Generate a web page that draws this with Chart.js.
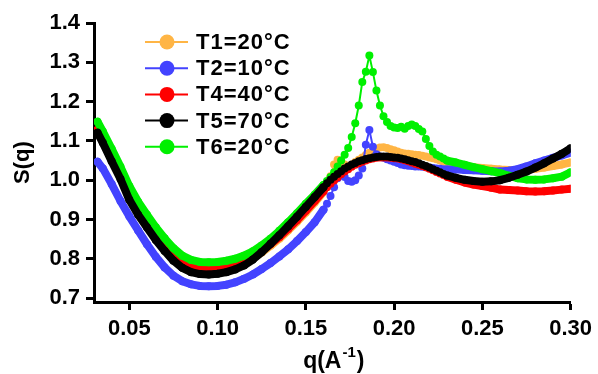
<!DOCTYPE html>
<html>
<head>
<meta charset="utf-8">
<script src="https://cdn.jsdelivr.net/npm/chart.js@4.4.1/dist/chart.umd.min.js"></script>
<style>
  html, body { margin: 0; padding: 0; background: #fff; }
  #wrap { width: 598px; height: 374px; }
</style>
</head>
<body>
<div id="wrap"><canvas id="chart" width="598" height="374"></canvas></div>
<script>
// q values (A^-1), shared by every curve
const qValues = [
  0.032, 0.035, 0.040, 0.045, 0.050, 0.055, 0.060, 0.065, 0.070, 0.075,
  0.080, 0.085, 0.090, 0.095, 0.100, 0.105, 0.110, 0.115, 0.120, 0.125,
  0.130, 0.135, 0.140, 0.145, 0.150, 0.155, 0.160,
  0.162, 0.164, 0.166, 0.168, 0.170, 0.172, 0.174, 0.176, 0.178, 0.180,
  0.182, 0.184, 0.186, 0.188, 0.190, 0.192, 0.194, 0.196, 0.198, 0.200,
  0.202, 0.204, 0.206, 0.208, 0.210, 0.212, 0.214, 0.216, 0.218, 0.220,
  0.222, 0.224, 0.226, 0.228, 0.230,
  0.235, 0.240, 0.245, 0.250, 0.255, 0.260, 0.265, 0.270, 0.275, 0.280,
  0.285, 0.290, 0.295, 0.300
];

const sT1 = [
  1.124, 1.099, 1.054, 1.010, 0.959, 0.921, 0.889, 0.858, 0.831, 0.806,
  0.788, 0.777, 0.772, 0.771, 0.772, 0.775, 0.781, 0.789, 0.801, 0.816,
  0.833, 0.851, 0.872, 0.894, 0.918, 0.943, 0.970,
  0.985, 1.010, 1.040, 1.052, 1.050, 1.040, 1.036, 1.040, 1.046, 1.052,
  1.058, 1.064, 1.070, 1.075, 1.080, 1.083, 1.084, 1.082, 1.079, 1.076,
  1.073, 1.070, 1.068, 1.067, 1.066, 1.065, 1.064, 1.062, 1.060, 1.058,
  1.056, 1.053, 1.050, 1.047, 1.045,
  1.040, 1.036, 1.033, 1.031, 1.029, 1.027, 1.026, 1.026, 1.027, 1.029,
  1.032, 1.036, 1.040, 1.045
];

const sT2 = [
  1.047, 1.030, 0.990, 0.947, 0.908, 0.872, 0.837, 0.805, 0.778, 0.757,
  0.743, 0.735, 0.731, 0.730, 0.731, 0.734, 0.740, 0.749, 0.760, 0.774,
  0.789, 0.806, 0.824, 0.845, 0.868, 0.893, 0.925,
  0.940, 0.960, 0.982, 1.005, 1.018, 1.008, 0.998, 0.996, 1.000, 1.012,
  1.030, 1.090, 1.128, 1.085, 1.066, 1.060, 1.057, 1.053, 1.050, 1.047,
  1.044, 1.040, 1.038, 1.037, 1.036, 1.035, 1.035, 1.034, 1.033, 1.032,
  1.031, 1.030, 1.029, 1.028, 1.027,
  1.028, 1.026, 1.025, 1.024, 1.023, 1.022, 1.024, 1.028, 1.035, 1.043,
  1.050, 1.057, 1.063, 1.070
];

const sT4 = [
  1.128, 1.103, 1.058, 1.014, 0.963, 0.925, 0.893, 0.862, 0.835, 0.810,
  0.792, 0.781, 0.776, 0.775, 0.776, 0.779, 0.785, 0.793, 0.805, 0.820,
  0.837, 0.855, 0.876, 0.898, 0.922, 0.947, 0.972,
  0.982, 0.991, 0.999, 1.007, 1.015, 1.022, 1.028, 1.034, 1.039, 1.043,
  1.047, 1.050, 1.053, 1.055, 1.057, 1.058, 1.058, 1.058, 1.057, 1.056,
  1.055, 1.053, 1.051, 1.048, 1.045, 1.042, 1.039, 1.036, 1.033, 1.029,
  1.025, 1.021, 1.017, 1.013, 1.009,
  1.001, 0.994, 0.989, 0.985, 0.981, 0.976, 0.975, 0.974, 0.972, 0.971,
  0.972, 0.974, 0.976, 0.978
];

const sT5 = [
  1.121, 1.095, 1.048, 1.003, 0.950, 0.912, 0.880, 0.848, 0.820, 0.795,
  0.777, 0.766, 0.761, 0.760, 0.762, 0.766, 0.773, 0.783, 0.798, 0.817,
  0.838, 0.860, 0.883, 0.907, 0.932, 0.957, 0.982,
  0.992, 1.001, 1.009, 1.016, 1.023, 1.030, 1.035, 1.040, 1.044, 1.048,
  1.051, 1.054, 1.056, 1.058, 1.059, 1.060, 1.060, 1.060, 1.059, 1.058,
  1.057, 1.055, 1.053, 1.051, 1.048, 1.046, 1.043, 1.039, 1.036, 1.032,
  1.028, 1.024, 1.020, 1.016, 1.012,
  1.006, 1.001, 0.998, 0.996, 0.997, 1.000, 1.006, 1.014, 1.022, 1.032,
  1.043, 1.055, 1.067, 1.081
];

const sT6 = [
  1.149, 1.124, 1.080, 1.034, 0.985, 0.945, 0.912, 0.880, 0.852, 0.827,
  0.808, 0.797, 0.792, 0.791, 0.792, 0.795, 0.800, 0.808, 0.819, 0.834,
  0.851, 0.871, 0.893, 0.916, 0.940, 0.963, 0.988,
  0.998, 1.008, 1.020, 1.035, 1.050, 1.065, 1.082, 1.110, 1.145, 1.190,
  1.250, 1.276, 1.317, 1.275, 1.228, 1.190, 1.163, 1.148, 1.138, 1.134,
  1.133, 1.136, 1.131, 1.138, 1.142, 1.138, 1.130, 1.124, 1.105, 1.087,
  1.073, 1.065, 1.060, 1.055, 1.050,
  1.045, 1.039, 1.033, 1.028, 1.023, 1.018, 1.011, 1.005, 1.002, 1.001,
  1.002, 1.005, 1.009, 1.020
];

const seriesNames = ['T1=20°C', 'T2=10°C', 'T4=40°C', 'T5=70°C', 'T6=20°C'];
const seriesValues = [sT1, sT2, sT4, sT5, sT6];
const seriesColors = ['#FFB545', '#4343FF', '#FF0000', '#000000', '#00F000'];
const drawOrder = [4, 3, 2, 0, 1]; // black on top, orange at the bottom

const xTicks = [0.05, 0.10, 0.15, 0.20, 0.25, 0.30];
const yTicks = [0.7, 0.8, 0.9, 1.0, 1.1, 1.2, 1.3, 1.4];

const FONT = '"Liberation Sans", Arial, sans-serif';

const datasets = seriesNames.map((name, i) => ({
  label: name,
  data: qValues.map((q, j) => ({x: q, y: seriesValues[i][j]})),
  borderColor: seriesColors[i],
  backgroundColor: seriesColors[i],
  pointBackgroundColor: seriesColors[i],
  pointBorderWidth: 0,
  pointRadius: 4,
  borderWidth: 8,
  borderJoinStyle: 'round',
  borderCapStyle: 'round',
  tension: 0,
  order: drawOrder[i],
  // wide spacing -> thick band, dense spacing -> thin connecting line
  segment: {
    borderWidth: c => (c.p1.parsed.x - c.p0.parsed.x > 0.003 ? 8 : 2)
  }
}));

// legend in the top-left corner, line + dot + label
const keyPlugin = {
  id: 'keyBox',
  afterDraw(chart) {
    const ctx = chart.ctx;
    ctx.save();
    ctx.font = 'bold 22px ' + FONT;
    ctx.letterSpacing = '1px';
    ctx.textBaseline = 'middle';
    ctx.textAlign = 'left';
    seriesNames.forEach((name, i) => {
      const y = 42 + i * 26.2;
      ctx.strokeStyle = seriesColors[i];
      ctx.lineWidth = 2;
      ctx.beginPath();
      ctx.moveTo(145, y);
      ctx.lineTo(188, y);
      ctx.stroke();
      ctx.fillStyle = seriesColors[i];
      ctx.beginPath();
      ctx.arc(167, y, 7.5, 0, Math.PI * 2);
      ctx.fill();
      ctx.fillStyle = '#000';
      ctx.fillText(name, 196, y + 1);
    });
    ctx.restore();
  }
};

// x axis title with a real superscript: q(A^-1)
const qTitlePlugin = {
  id: 'qTitle',
  afterDraw(chart) {
    const ctx = chart.ctx;
    const a = chart.chartArea;
    const big = 'bold 23px ' + FONT;
    const small = 'bold 15px ' + FONT;
    ctx.save();
    ctx.fillStyle = '#000';
    ctx.textBaseline = 'alphabetic';
    ctx.textAlign = 'left';
    ctx.font = big;
    const w1 = ctx.measureText('q(A').width;
    const w3 = ctx.measureText(')').width;
    ctx.font = small;
    const w2 = ctx.measureText('-1').width + 1;
    let x = (a.left + a.right) / 2 - (w1 + w2 + w3) / 2 + 1;
    const base = 368;
    ctx.font = big;
    ctx.fillText('q(A', x, base);
    x += w1 + 1;
    ctx.font = small;
    ctx.fillText('-1', x, base - 11);
    x += w2;
    ctx.font = big;
    ctx.fillText(')', x, base);
    ctx.restore();
  }
};

new Chart(document.getElementById('chart').getContext('2d'), {
  type: 'line',
  data: { datasets: datasets },
  options: {
    responsive: false,
    animation: false,
    devicePixelRatio: 1,
    layout: { padding: { left: 0, right: 25, top: 23, bottom: 0 } },
    plugins: {
      legend: { display: false },
      tooltip: { enabled: false }
    },
    scales: {
      x: {
        type: 'linear',
        min: 0.03,
        max: 0.30,
        afterFit: s => { s.height = 72; },
        afterBuildTicks: s => { s.ticks = xTicks.map(v => ({value: v})); },
        border: { display: true, color: '#000', width: 3 },
        grid: { drawOnChartArea: false, drawTicks: true, tickLength: 8, tickWidth: 3, tickColor: '#000' },
        ticks: {
          color: '#000',
          padding: 6,
          maxRotation: 0,
          font: { family: FONT, size: 22, weight: 'bold' },
          callback: v => v.toFixed(2)
        },
        title: { display: false }
      },
      y: {
        type: 'linear',
        min: 0.69,
        max: 1.4,
        afterFit: s => { s.width = 94; },
        afterBuildTicks: s => { s.ticks = yTicks.map(v => ({value: v})); },
        border: { display: true, color: '#000', width: 3 },
        grid: { drawOnChartArea: false, drawTicks: true, tickLength: 8, tickWidth: 3, tickColor: '#000' },
        ticks: {
          color: '#000',
          padding: 6,
          font: { family: FONT, size: 22, weight: 'bold' },
          callback: v => v.toFixed(1)
        },
        title: {
          display: true,
          text: 'S(q)',
          color: '#000',
          font: { family: FONT, size: 22, weight: 'bold' },
          padding: { top: 10, bottom: 0 }
        }
      }
    }
  },
  plugins: [keyPlugin, qTitlePlugin]
});
</script>
</body>
</html>
